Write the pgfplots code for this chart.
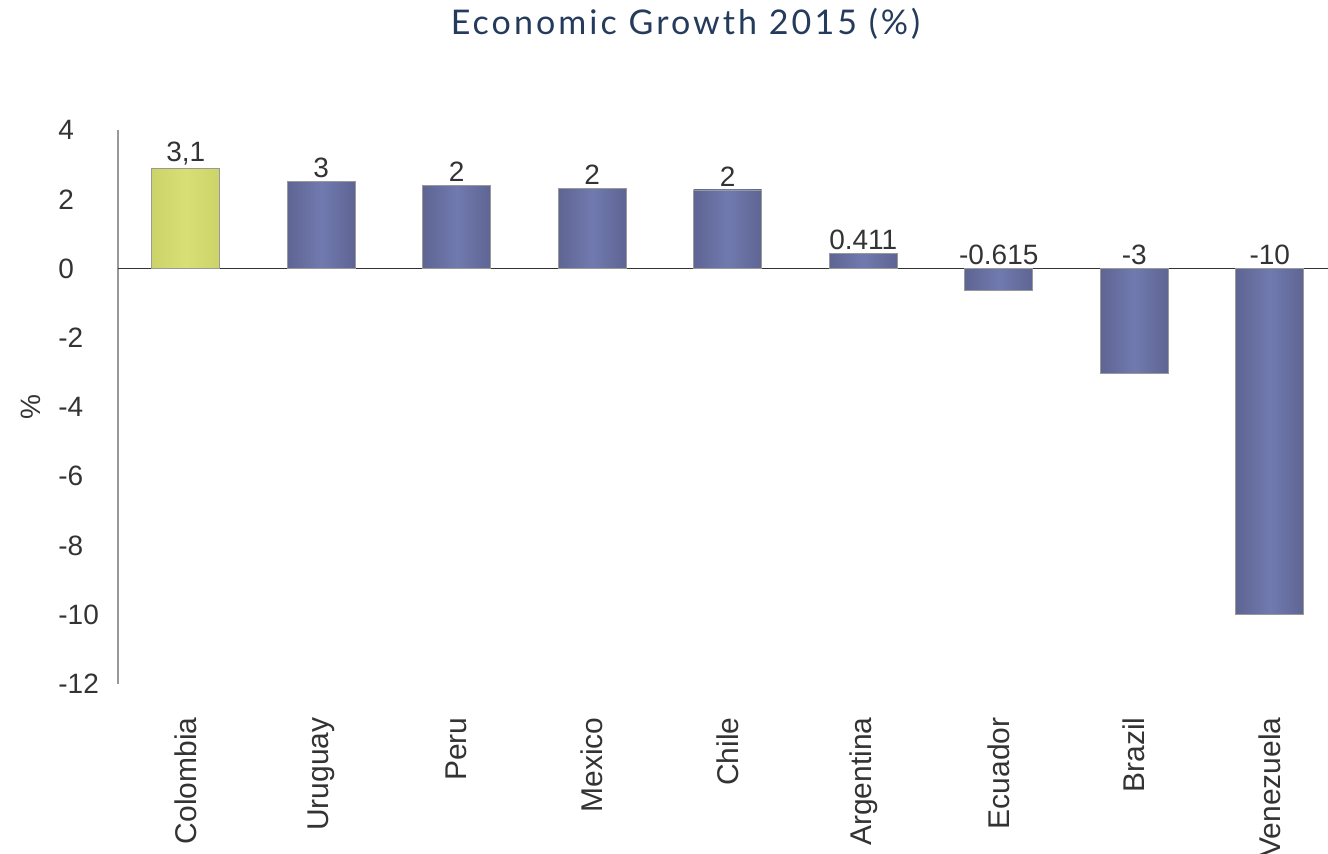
\documentclass[border=0pt]{standalone}
\usepackage{fontspec}
\setmainfont{Liberation Sans}
\newfontfamily\titlefont[LetterSpace=9]{Lato}
\usepackage{pgfplots}
\pgfplotsset{compat=1.18}
\definecolor{titleC}{HTML}{243B5C}
\definecolor{txtC}{HTML}{333333}
\definecolor{axisC}{HTML}{999999}
\definecolor{zeroC}{HTML}{333333}
\definecolor{barM}{HTML}{717AAF}
\definecolor{barE}{HTML}{5E6593}
\definecolor{colM}{HTML}{D8DF74}
\definecolor{colE}{HTML}{CCD368}
\pgfplotsset{
    bluebar/.style={ybar, bar shift=0pt, draw=gray!80, line width=0.4pt,
        left color=barE, right color=barE, middle color=barM},
}
\begin{document}
\begin{tikzpicture}
\useasboundingbox (0,0) rectangle (664pt,426.5pt);
\clip (0,0) rectangle (664pt,426.5pt);
\node[anchor=base, text=titleC, font=\titlefont\fontsize{17}{20}\selectfont]
  at (342.75pt,409pt) {Economic Growth 2015 (\%)};
\node[rotate=90, text=txtC, font=\fontsize{14}{16}\selectfont]
  at (15.5pt,223pt) {\%};
\begin{axis}[
    at={(59pt,84.5pt)}, anchor=south west,
    scale only axis,
    width=609.75pt, height=277pt,
    xmin=-0.5, xmax=8.5,
    ymin=-12, ymax=4,
    ytick={-12,-10,...,4},
    xtick={0,...,8},
    xticklabels={Colombia,Uruguay,Peru,Mexico,Chile,Argentina,Ecuador,Brazil,Venezuela},
    axis lines*=left,
    x axis line style={draw=none},
    y axis line style={draw=axisC, line width=1pt},
    tick style={draw=none},
    major tick length=0pt,
    /pgf/number format/assume math mode=true,
    yticklabel style={anchor=west, inner sep=0pt, text=txtC, font=\fontsize{14}{16}\selectfont},
    yticklabel shift=30pt,
    xticklabel style={rotate=90, anchor=east, inner sep=0pt, text=txtC, font=\fontsize{15}{17}\selectfont},
    xticklabel shift=16.5pt,
    extra y ticks={0},
    extra y tick labels={},
    extra y tick style={grid=major, major grid style={draw=zeroC, line width=0.9pt}},
    bar width=34pt,
    clip=false,
]
% Colombia
\addplot[ybar, bar shift=0pt, draw=gray!80, line width=0.4pt,
    left color=colE, right color=colE, middle color=colM]
    coordinates {(0,2.90)};
% other countries, one plot per bar so each gets its own shading
\addplot[bluebar] coordinates {(1,2.51)};
\addplot[bluebar] coordinates {(2,2.41)};
\addplot[bluebar] coordinates {(3,2.32)};
\addplot[bluebar] coordinates {(4,2.27)};
\addplot[bluebar] coordinates {(5,0.43)};
\addplot[bluebar] coordinates {(6,-0.62)};
\addplot[bluebar] coordinates {(7,-3.03)};
\addplot[bluebar] coordinates {(8,-10.0)};
% value labels (placed above bar top or above zero line)
\addplot[draw=none, mark=none, point meta=explicit symbolic,
    nodes near coords,
    every node near coord/.append style={anchor=south, inner sep=1.5pt, text=txtC, font=\fontsize{14}{16}\selectfont}]
    table[meta=lab] {
x y lab
0 2.90 {3,1}
1 2.51 3
2 2.41 2
3 2.32 2
4 2.27 2
5 0.43 0.411
6 0 -0.615
7 0 -3
8 0 -10
};
\end{axis}
\end{tikzpicture}
\end{document}
